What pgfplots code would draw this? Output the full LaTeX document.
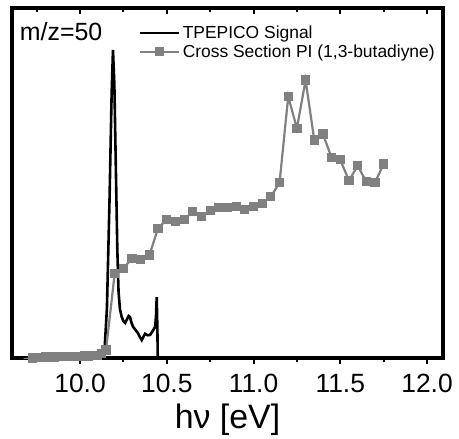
\documentclass[border=0pt]{standalone}
\usepackage{fontspec}
\setmainfont{Liberation Sans}
\usepackage{pgfplots}
\pgfplotsset{compat=1.18}
\usetikzlibrary{calc}
\definecolor{xsgray}{RGB}{128,128,128}

\pgfplotsset{
  frame/.style={
    scale only axis, width=431bp, height=350bp,
    xmin=9.608, xmax=12.092, ymin=0, ymax=1,
    axis line style={line width=3.2bp},
    ytick=\empty,
    xtick={10,10.5,11,11.5,12},
    minor xtick={9.75,10.25,10.75,11.25,11.75},
    major tick length=6bp, minor tick length=4bp,
    every tick/.style={black, line width=2bp},
  }
}

\begin{document}
\begin{tikzpicture}
% top ticks point into the box, so they get their own axis
\begin{axis}[frame, xtick pos=top, xtick align=inside, xticklabels={}]
\end{axis}

\begin{axis}[
  frame, name=ax,
  xtick pos=bottom, xtick align=outside,
  /pgf/number format/fixed zerofill,
  /pgf/number format/precision=1,
  /pgf/number format/assume math mode=true,
  xticklabel style={font=\fontsize{26.5}{30}\selectfont, yshift=-7bp},
  xlabel={hν [eV]},
  xlabel style={font=\fontsize{34}{38}\selectfont, yshift=-4bp},
  legend style={at={(0.293,0.955)}, anchor=north west, draw=none, fill=none,
    font=\fontsize{17.5}{20}\selectfont, row sep=0.5bp, inner sep=0pt},
  legend cell align=left,
  legend image code/.code={\draw[mark repeat=2,mark phase=2,#1]
    plot coordinates {(0cm,0cm) (0.7cm,0cm) (1.4cm,0cm)};},
]
\addplot[black, line width=2.6bp] coordinates {
  (9.68,0.002) (9.80,0.002) (9.90,0.003) (10.00,0.003) (10.10,0.004)
  (10.13,0.006) (10.14,0.012) (10.155,0.14) (10.17,0.45) (10.182,0.75)
  (10.19,0.88) (10.198,0.78) (10.207,0.53) (10.215,0.31) (10.222,0.19)
  (10.23,0.14) (10.24,0.118) (10.25,0.105) (10.26,0.10) (10.27,0.11)
  (10.28,0.12) (10.288,0.117) (10.297,0.10) (10.306,0.089) (10.32,0.08)
  (10.334,0.071) (10.345,0.06) (10.356,0.051) (10.365,0.06) (10.375,0.069)
  (10.39,0.065) (10.404,0.066) (10.42,0.078) (10.433,0.089) (10.438,0.12)
  (10.442,0.174) (10.446,0.08) (10.448,0.0)
};
\addlegendentry{TPEPICO Signal}

\addplot[xsgray, line width=2.2bp, mark=square*, mark size=4.1bp,
  mark options={solid, fill=xsgray, draw=xsgray, line width=0pt}] coordinates {
  (9.675,-0.004) (9.70,-0.002) (9.725,0.000) (9.75,0.001) (9.775,0.002)
  (9.80,0.003) (9.825,0.003) (9.85,0.003) (9.875,0.004) (9.90,0.004)
  (9.925,0.004) (9.95,0.005) (9.975,0.005) (10.00,0.005) (10.025,0.006)
  (10.05,0.006) (10.075,0.007) (10.10,0.008) (10.125,0.012)
  (10.15,0.023) (10.20,0.242) (10.25,0.256) (10.30,0.285) (10.35,0.282)
  (10.40,0.294) (10.45,0.371) (10.50,0.396) (10.55,0.389) (10.60,0.396)
  (10.65,0.418) (10.70,0.404) (10.75,0.421) (10.80,0.431) (10.85,0.431)
  (10.90,0.432) (10.95,0.425) (11.00,0.432) (11.05,0.442) (11.10,0.461)
  (11.15,0.501) (11.20,0.747) (11.25,0.656) (11.30,0.794) (11.35,0.623)
  (11.40,0.640) (11.45,0.572) (11.50,0.566) (11.55,0.507) (11.60,0.549)
  (11.65,0.504) (11.70,0.502) (11.75,0.554)
};
\addlegendentry{Cross Section PI (1,3-butadiyne)}

\node[anchor=base west, font=\fontsize{25}{28}\selectfont, inner sep=0pt]
  at (rel axis cs:0.018,0.906) {m/z=50};
\end{axis}

\pgfresetboundingbox
\path[use as bounding box] ($(ax.south west)+(-12bp,-81bp)$)
  rectangle ($(ax.north east)+(16bp,8bp)$);
\end{tikzpicture}
\end{document}
